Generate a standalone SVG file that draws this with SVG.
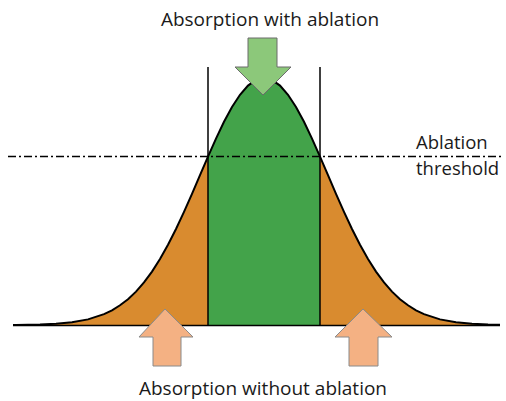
<svg xmlns="http://www.w3.org/2000/svg" width="506" height="401" viewBox="0 0 506 401">
<style>
.lbl{font-family:"Open Sans","Noto Sans","DejaVu Sans",sans-serif;font-size:19px;fill:#1a1a1a}
.vl{stroke:#000;stroke-width:1.5;fill:none}
.arrG{fill:#8CC87A;stroke:#6b6b6b;stroke-width:1}
.arrO{fill:#F4B183;stroke:#8a8a8a;stroke-width:1}
</style>
<rect width="506" height="401" fill="#fff"/>
<g id="fills">
<path id="left-tail" fill="#D98B2F" d="M13,325 L16,324.9 L40,324.5 L56,323.7 L72,322.3 L88,319.4 L104,314.1 L112,310.3 L120,305.3 L128,299.2 L136,291.6 L144,282.4 L152,271.6 L160,259 L168,244.8 L176,229 L184,211.9 L192,193.8 L200,175.2 L208,156.6 L208,325 Z"/>
<path id="center" fill="#43A34A" d="M208,325 L208,156.6 L216,138.6 L224,121.8 L232,107 L240,94.8 L248,85.6 L256,79.9 L264,78 L272,79.9 L280,85.6 L288,94.8 L296,107 L304,121.8 L312,138.6 L320,156.6 L320,325 Z"/>
<path id="right-tail" fill="#D98B2F" d="M320,325 L320,156.6 L328,175.2 L336,193.8 L344,211.9 L352,229 L360,244.8 L368,259 L376,271.6 L384,282.4 L392,291.6 L400,299.2 L408,305.3 L416,310.3 L424,314.1 L440,319.4 L456,322.3 L472,323.7 L488,324.5 L500,324.8 L500,325 Z"/>
</g>
<g id="connectors">
<path id="curve" fill="none" stroke="#000" stroke-width="2" d="M13,325 L16,324.9 L40,324.5 L56,323.7 L72,322.3 L88,319.4 L104,314.1 L112,310.3 L120,305.3 L128,299.2 L136,291.6 L144,282.4 L152,271.6 L160,259 L168,244.8 L176,229 L184,211.9 L192,193.8 L200,175.2 L208,156.6 L216,138.6 L224,121.8 L232,107 L240,94.8 L248,85.6 L256,79.9 L264,78 L272,79.9 L280,85.6 L288,94.8 L296,107 L304,121.8 L312,138.6 L320,156.6 L328,175.2 L336,193.8 L344,211.9 L352,229 L360,244.8 L368,259 L376,271.6 L384,282.4 L392,291.6 L400,299.2 L408,305.3 L416,310.3 L424,314.1 L440,319.4 L456,322.3 L472,323.7 L488,324.5 L500,324.8"/>
<line class="vl" x1="13" y1="325.5" x2="500" y2="325.5" stroke-width="2"/>
<line class="vl" x1="208" y1="67" x2="208" y2="325"/>
<line class="vl" x1="320" y1="67" x2="320" y2="325"/>
<line id="threshold" x1="8" y1="156.5" x2="502" y2="156.5" stroke="#000" stroke-width="1.5" stroke-dasharray="8 3 2 3"/>
</g>
<g id="arrow-ablation">
<path class="arrG" d="M248,38 L277,38 L277,67 L291,67 L263,95 L235,67 L248,67 Z"/>
</g>
<g id="arrow-left">
<path class="arrO" d="M165,309 L193,337 L181,337 L181,366 L153,366 L153,337 L139,337 Z"/>
</g>
<g id="arrow-right">
<path class="arrO" d="M363,309 L392,337 L378,337 L378,366 L349,366 L349,337 L335,337 Z"/>
</g>
<g id="labels">
<text class="lbl" x="270" y="26" text-anchor="middle">Absorption with ablation</text>
<text class="lbl" x="263" y="395" text-anchor="middle">Absorption without ablation</text>
<text class="lbl" x="416" y="149" style="font-size:18.5px">Ablation</text>
<text class="lbl" x="416" y="175" style="font-size:18.5px">threshold</text>
</g>
</svg>
